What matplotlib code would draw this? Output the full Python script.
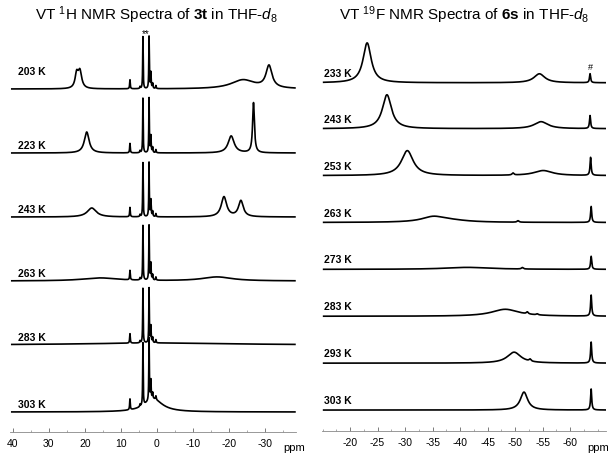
import numpy as np
import matplotlib
matplotlib.use("Agg")
import matplotlib.pyplot as plt

plt.rcParams['font.family'] = ['Liberation Sans', 'DejaVu Sans']
plt.rcParams['mathtext.fontset'] = 'custom'
plt.rcParams['mathtext.rm'] = 'Liberation Sans'
plt.rcParams['mathtext.it'] = 'Liberation Sans:italic'
plt.rcParams['mathtext.bf'] = 'Liberation Sans:bold'

# ---- 1H spectra of 3t (left) ----
# each peak: (ppm, height, half width) ; heights in px above baseline
h_temps = ["203 K", "223 K", "243 K", "263 K", "283 K", "303 K"]
h_base = [343, 279, 215, 151, 87, 20]
h_solvent = [(3.9, 52, 0.08), (2.2, 52, 0.08), (7.5, 9, 0.1), (4.7, 2, 0.1),
             (1.7, 16, 0.1), (1.2, 5, 0.1), (0.3, 3, 0.1)]
h_peaks = [
    [(22.3, 14, 0.5), (21.4, 17, 0.6), (-23.9, 9, 4.0), (-31.1, 22, 1.0)],
    [(19.5, 21, 0.8), (-20.6, 17, 1.0), (-26.8, 50, 0.3)],
    [(18.1, 9, 1.5), (-18.6, 20, 0.9), (-23.3, 16, 0.8)],
    [(15.8, 3, 6.0), (-16.7, 4, 5.0)],
    [(0.0, 2, 25.0)],
    [(1.0, 13, 3.0)],
]
h_solvent_scale = [1.0, 1.05, 1.04, 1.05, 1.05, 1.2]

# ---- 19F spectra of 6s (right) ----
f_temps = ["233 K", "243 K", "253 K", "263 K", "273 K", "283 K", "293 K", "303 K"]
f_base = [349, 303, 256, 209, 162, 115, 68, 21]
f_peaks = [
    [(-23.1, 40, 0.9), (-54.4, 9, 1.2), (-63.6, 9, 0.12)],
    [(-26.7, 34, 1.0), (-54.7, 7, 1.5), (-63.6, 13, 0.12)],
    [(-30.4, 25, 1.3), (-55.1, 5, 2.0), (-49.6, 2, 0.2), (-63.7, 18, 0.12)],
    [(-35.1, 5, 2.5), (-38.0, 2, 4.0), (-50.5, 1.5, 0.2), (-63.8, 16, 0.12)],
    [(-41.3, 2, 5.0), (-51.3, 1.5, 0.2), (-63.8, 13, 0.12)],
    [(-48.2, 7, 3.0), (-52.2, 2, 0.2), (-54.0, 1, 0.2), (-63.8, 21, 0.12)],
    [(-49.8, 11, 1.5), (-52.7, 2, 0.2), (-63.8, 21, 0.12)],
    [(-51.6, 18, 0.8), (-63.8, 21, 0.12)],
]


def lorentz(x, peaks):
    y = np.zeros_like(x)
    for c, h, w in peaks:
        y += h * w**2 / ((x - c)**2 + w**2)
    return y


fig = plt.figure(figsize=(6.08, 4.53), dpi=100)
W, H = 608.0, 453.0
ax1 = fig.add_axes([10 / W, 1 - 432 / H, 286 / W, 432 / H])
ax2 = fig.add_axes([322 / W, 1 - 431 / H, 284 / W, 431 / H])

x1 = np.linspace(40.3, -38.3, 30000)
for i in range(len(h_temps)):
    sol = [(c, h * h_solvent_scale[i], w) for c, h, w in h_solvent]
    y = h_base[i] + lorentz(x1, h_peaks[i]) + lorentz(x1, sol)
    ax1.plot(x1, y, color='black', lw=1.2)
    ax1.text(38.5, h_base[i] + (17 if i == 0 else 7), h_temps[i], fontsize=7.5,
             fontweight='bold', va='center', ha='left')
ax1.text(3.0, 398, '**', fontsize=7, ha='center', va='center')

x2 = np.linspace(-15.2, -66.5, 20000)
for i in range(len(f_temps)):
    y = f_base[i] + lorentz(x2, f_peaks[i])
    ax2.plot(x2, y, color='black', lw=1.2)
    ax2.text(-15.3, f_base[i] + 9, f_temps[i], fontsize=7.5,
             fontweight='bold', va='center', ha='left')
ax2.text(-63.6, 364, '#', fontsize=6.5, ha='center', va='center')

ax1.set_xlim(40.8, -38.6)
ax2.set_xlim(-14.9, -66.5)
ax1.set_xticks(np.arange(40, -40, -10))
ax1.set_xticklabels(['40', '30', '20', '10', '0', '-10', '-20', '-30'])
ax1.set_xticks(np.arange(35, -40, -5), minor=True)
ax2.set_xticks(np.arange(-20, -65, -5))
ax2.set_xticklabels([str(v) for v in range(-20, -65, -5)])
ax2.set_xticks(np.arange(-15, -67, -2.5), minor=True)

for ax in (ax1, ax2):
    ax.set_ylim(0, 432)
    ax.set_yticks([])
    for s in ('top', 'right', 'left'):
        ax.spines[s].set_visible(False)
    ax.spines['bottom'].set_color('#888888')
    ax.spines['bottom'].set_linewidth(0.6)
    ax.tick_params(axis='x', which='major', direction='in', length=3,
                   width=0.6, color='#666666', labelsize=7.5, pad=5)
    ax.tick_params(axis='x', which='minor', direction='in', length=1.5,
                   width=0.5, color='#888888')
    ax.patch.set_alpha(0)

fig.text(283 / W, 1 - 448 / H, 'ppm', fontsize=8, ha='left', va='center')
fig.text(587 / W, 1 - 448 / H, 'ppm', fontsize=8, ha='left', va='center')

fig.text(156 / W, 1 - 15 / H, r'VT $^{1}$H NMR Spectra of $\mathbf{3t}$ in THF-$d_8$',
         fontsize=11, ha='center', va='center')
fig.text(464 / W, 1 - 15 / H, r'VT $^{19}$F NMR Spectra of $\mathbf{6s}$ in THF-$d_8$',
         fontsize=11, ha='center', va='center')

fig.savefig('out.png', dpi=100)
